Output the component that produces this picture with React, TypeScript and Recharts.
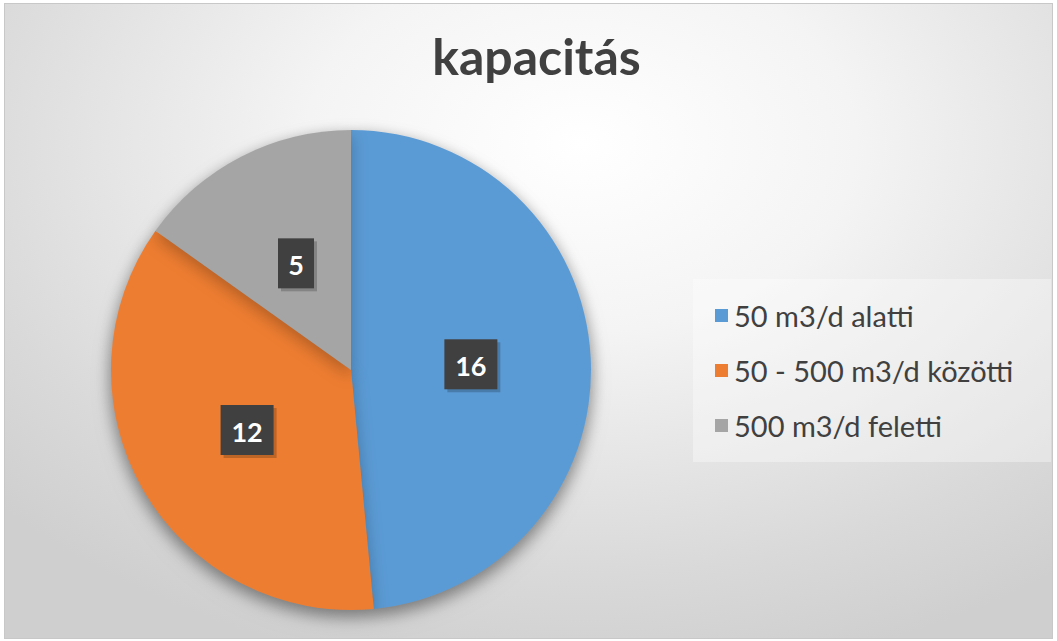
import React from 'react'
import { PieChart, Pie, Cell, Legend } from 'recharts'

const categories = ['50 m3/d alatti', '50 - 500 m3/d közötti', '500 m3/d feletti']
const values = [16, 12, 5]
const colors = ['#5b9bd5', '#ed7d31', '#a5a5a5']

const data = categories.map((name, i) => ({ name, value: values[i] }))

const RADIAN = Math.PI / 180
const FONT = 'Lato, "Open Sans", sans-serif'

const renderLabel = (props: any) => {
  const { cx, cy, midAngle, outerRadius, value } = props
  const r = outerRadius * 0.5
  const x = cx + r * Math.cos(-midAngle * RADIAN)
  const y = cy + r * Math.sin(-midAngle * RADIAN)
  const text = String(value)
  const w = text.length > 1 ? 53 : 36
  const h = 50
  return (
    <g>
      <rect x={x - w / 2 + 3} y={y - h / 2 + 3} width={w} height={h} fill="#000" opacity={0.2} />
      <rect x={x - w / 2} y={y - h / 2} width={w} height={h} fill="#404040" />
      <text
        x={x}
        y={y + 1}
        fill="#fff"
        textAnchor="middle"
        dominantBaseline="central"
        style={{ fontFamily: FONT, fontWeight: 700, fontSize: 27 }}
      >
        {text}
      </text>
    </g>
  )
}

const LegendContent = () => (
  <div
    style={{
      background: 'rgba(255,255,255,0.35)',
      padding: '9px 0 9px 22px',
      fontFamily: FONT,
    }}
  >
    {data.map((d, i) => (
      <div key={d.name} style={{ display: 'flex', alignItems: 'center', height: 55 }}>
        <span style={{ width: 13, height: 13, background: colors[i], marginRight: 6 }} />
        <span style={{ fontSize: 29, color: '#404040' }}>{d.name}</span>
      </div>
    ))}
  </div>
)

export default function App() {
  return (
    <div
      style={{
        position: 'fixed',
        left: 0,
        top: 0,
        width: 1057,
        height: 641,
        background: '#fff',
      }}
    >
      <style>{`.pie-shadow { filter: drop-shadow(0px 6px 8px rgba(0,0,0,0.25)); }`}</style>
      <div
        style={{
          position: 'absolute',
          left: 4,
          top: 3,
          width: 1049,
          height: 636,
          border: '1px solid #c8c8c8',
          boxSizing: 'border-box',
          background: 'radial-gradient(ellipse 75% 85% at 55% 22%, #ffffff 0%, #f4f4f4 35%, #d9d9d9 80%, #cfcfcf 100%)',
          overflow: 'hidden',
        }}
      >
        <div
          style={{
            position: 'absolute',
            left: 0,
            top: 22,
            width: '100%',
            textAlign: 'center',
            fontFamily: FONT,
            fontWeight: 700,
            fontSize: 50,
            color: '#404040',
            paddingLeft: 16,
            boxSizing: 'border-box',
          }}
        >
          kapacitás
        </div>
        <PieChart width={1049} height={636} style={{ position: 'absolute', left: 0, top: 0 }}>
          <Pie
            data={data}
            dataKey="value"
            nameKey="name"
            cx={341}
            cy={361}
            outerRadius={240}
            startAngle={90}
            endAngle={-270}
            stroke="none"
            label={renderLabel}
            labelLine={false}
            className="pie-shadow"
            isAnimationActive={false}
          >
            {data.map((d, i) => (
              <Cell key={d.name} fill={colors[i]} />
            ))}
          </Pie>
          <Legend
            content={<LegendContent />}
            wrapperStyle={{ left: 688, top: 275, width: 358, bottom: 'auto' }}
          />
        </PieChart>
      </div>
    </div>
  )
}
